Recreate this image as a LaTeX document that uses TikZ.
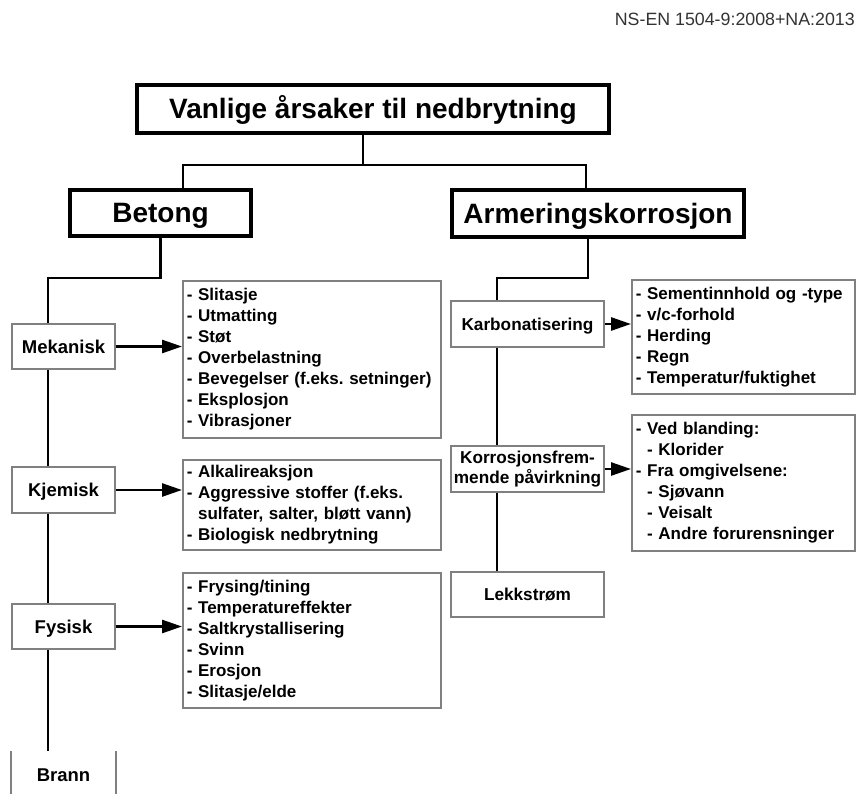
\documentclass[tikz,border=0pt]{standalone}
\usepackage{fontspec}
\setmainfont{Liberation Sans}
\usetikzlibrary{arrows.meta}

\tikzset{
    tree line/.style={
      draw=black,
      line width=2.6pt
    },
    tree arrow/.style={
      tree line,
      -{Triangle[length=20pt,width=13pt]}
    },
    main box/.style={
      draw=black,
      line width=3.2pt,
      inner sep=0pt,
      text height=20pt,
      text depth=0pt,
      font=\fontsize{28}{32}\selectfont\bfseries
    },
    cause box/.style={
      draw=black!50,
      line width=1.6pt,
      inner sep=0pt,
      align=center,
      text height=13.3pt,
      text depth=0pt,
      font=\fontsize{18.5}{20}\selectfont\bfseries
    },
    small cause box/.style={
      cause box,
      text height=12.3pt,
      font=\fontsize{17.2}{20}\selectfont\bfseries
    },
    list box/.style={
      draw=black!50,
      line width=1.6pt,
      anchor=north west,
      align=left,
      inner xsep=4pt,
      inner ysep=0pt,
      font=\fontsize{17}{21}\selectfont\bfseries\frenchspacing
    }
  }
\newcommand\listindent{\hphantom{- }}

\begin{document}
\begin{tikzpicture}[x=1pt,y=-1pt]
      \fill[white] (0,0) rectangle (856,794);
      \useasboundingbox (0,0) rectangle (856,794);

      % Standard
      \node[anchor=base east, inner sep=0pt, text=black!80,
        font=\fontsize{17.8}{20}\selectfont] (norm) at (855,26) {NS-EN 1504-9:2008+NA:2013};

      % Hovedbokser
      \node[main box, minimum width=472pt, minimum height=48pt] (title) at (373,109) {Vanlige årsaker til nedbrytning};
      \node[main box, minimum width=181pt, minimum height=46pt] (betong) at (160.5,213) {Betong};
      \node[main box, minimum width=292pt, minimum height=47pt] (armering) at (598,213.5) {Armeringskorrosjon};

      % Betong
      \node[cause box, minimum width=103pt, minimum height=45pt] (mekanisk) at (63.5,346.5) {Mekanisk};
      \node[cause box, minimum width=103pt, minimum height=46pt] (kjemisk) at (63.5,490) {Kjemisk};
      \node[cause box, minimum width=103pt, minimum height=45pt] (fysisk) at (63.5,626.5) {Fysisk};
      \node[cause box, draw=none, minimum width=103pt, minimum height=46pt] (brann) at (63.5,775) {Brann};

      \node[list box, text width=250pt, minimum height=157pt] (meklist) at (182,280)
        {- Slitasje\\- Utmatting\\- Støt\\- Overbelastning\\- Bevegelser (f.eks. setninger)\\- Eksplosjon\\- Vibrasjoner};
      \node[list box, text width=250pt, minimum height=90pt] (kjemlist) at (182,459)
        {- Alkalireaksjon\\- Aggressive stoffer (f.eks.\\\listindent sulfater, salter, bløtt vann)\\- Biologisk nedbrytning};
      \node[list box, text width=250pt, minimum height=135pt] (fyslist) at (182,572)
        {- Frysing/tining\\- Temperatureffekter\\- Saltkrystallisering\\- Svinn\\- Erosjon\\- Slitasje/elde};

      % Armeringskorrosjon
      \node[small cause box, minimum width=153pt, minimum height=46pt] (karbon) at (527.5,324) {Karbonatisering};
      \node[small cause box, text height=, text depth=, minimum width=153pt, minimum height=46pt] (korr) at (527.5,469) {Korrosjonsfrem-\\mende påvirkning};
      \node[small cause box, minimum width=153pt, minimum height=45pt] (lekk) at (527.5,594.5) {Lekkstrøm};

      \node[list box, text width=215pt, minimum height=114pt] (karblist) at (631,279)
        {- Sementinnhold og -type\\- v/c-forhold\\- Herding\\- Regn\\- Temperatur/fuktighet};
      \node[list box, text width=215pt, minimum height=136pt] (korrlist) at (631,414)
        {- Ved blanding:\\\listindent- Klorider\\- Fra omgivelsene:\\\listindent- Sjøvann\\\listindent- Veisalt\\\listindent- Andre forurensninger};

      % Forgreninger
      \coordinate (split) at (363,165);
      \coordinate (spine l) at (48,278);
      \coordinate (spine r) at (497,278);

      \draw[tree line] (title.south -| split) -- (split) -| ([xshift=22.5pt]betong.north);
      \draw[tree line] (split) -| ([xshift=-12pt]armering.north);

      \draw[tree line] (betong.south) |- (spine l) -- (spine l |- mekanisk.north);
      \draw[tree line] (spine l |- mekanisk.south) -- (spine l |- kjemisk.north);
      \draw[tree line] (spine l |- kjemisk.south) -- (spine l |- fysisk.north);
      \draw[tree line] (spine l |- fysisk.south) -- (spine l |- brann.north);

      \draw[tree line] ([xshift=-10pt]armering.south) |- (spine r) -- (spine r |- karbon.north);
      \draw[tree line] (spine r |- karbon.south) -- (spine r |- korr.north);
      \draw[tree line] (spine r |- korr.south) -- (spine r |- lekk.north);

      % Brann: bare sidekantene
      \draw[draw=black!50, line width=1.6pt] (brann.north west) -- (brann.south west);
      \draw[draw=black!50, line width=1.6pt] (brann.north east) -- (brann.south east);

      % Piler
      \draw[tree arrow] (mekanisk.east) -- (mekanisk.east -| meklist.west);
      \draw[tree arrow] (kjemisk.east) -- (kjemisk.east -| kjemlist.west);
      \draw[tree arrow] (fysisk.east) -- (fysisk.east -| fyslist.west);
      \draw[tree arrow] (karbon.east) -- (karbon.east -| karblist.west);
      \draw[tree arrow] (korr.east) -- (korr.east -| korrlist.west);
    \end{tikzpicture}
\end{document}
